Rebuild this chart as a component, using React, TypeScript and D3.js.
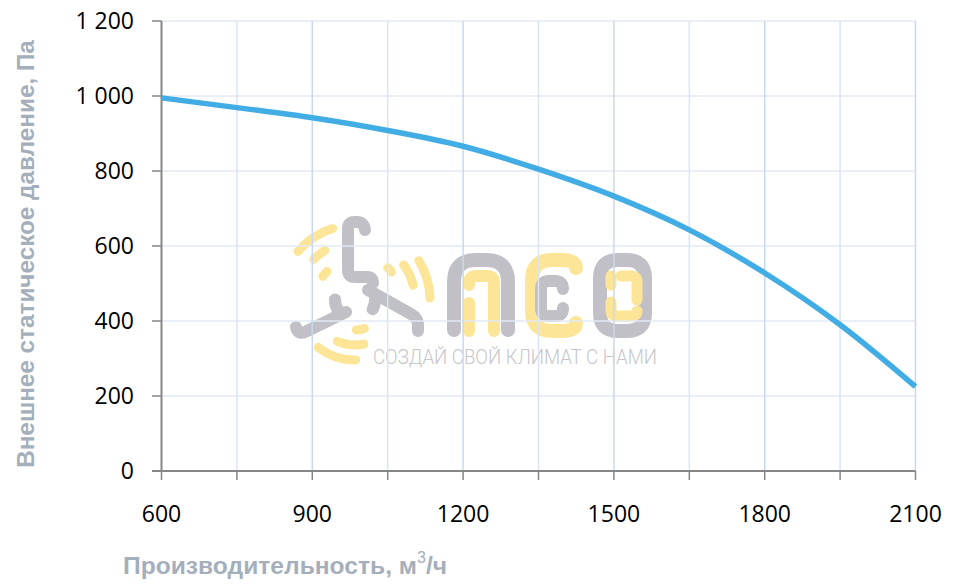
import React from "react";
import * as d3 from "d3";

const flow = [600, 750, 900, 1050, 1200, 1350, 1500, 1650, 1800, 1950, 2100];
const pressure = [995, 969, 942, 908, 866, 805, 733, 643, 528, 390, 225];

const xMajorTicks = [600, 900, 1200, 1500, 1800, 2100];
const xMinorTicks = [750, 1050, 1350, 1650, 1950];
const yTicks = [0, 200, 400, 600, 800, 1000, 1200];
const yTickLabels = ["0", "200", "400", "600", "800", "1 000", "1 200"];

const W = 954;
const H = 588;
const left = 161.5;
const right = 915.5;
const top = 21;
const bottom = 471;

const tickFont = "'Open Sans', 'Noto Sans', sans-serif";
const titleFont = "'Liberation Sans', Arial, sans-serif";

const x = d3.scaleLinear().domain([600, 2100]).range([left, right]);
const y = d3.scaleLinear().domain([0, 1200]).range([bottom, top]);

const line = d3
  .line<number>()
  .x((_, i) => x(flow[i]))
  .y((d) => y(d))
  .curve(d3.curveMonotoneX);

// watermark arcs [radius, startDeg, endDeg]
const yellowArcs: [number, number, number][] = [
  [75, -53, -14],
  [58, -50, -27],
  [40, -60, -38],
  [75, 55, 92],
  [60, 50, 80],
  [46, 40, 58],
  [60, 175, 222],
  [45, 163, 209],
  [30, 153, 186],
];
const hubArcs: [number, number, number][] = [
  [20, 218, 289],
  [20, 70, 135],
];

const rad = (d: number) => (d * Math.PI) / 180;

function Logo() {
  const gray = "#c0c0c6";
  const yellow = "#fde597";
  const arcY = d3.arc<any>().cornerRadius(4.5);
  const arcG = d3.arc<any>().cornerRadius(6);
  const cx = 355;
  const cy = 300;
  return (
    <g>
      <g transform={`translate(${cx},${cy})`}>
        {yellowArcs.map(([r, a0, a1], i) => (
          <path
            key={"y" + i}
            fill={yellow}
            d={arcY({ innerRadius: r - 4.5, outerRadius: r + 4.5, startAngle: rad(a0), endAngle: rad(a1) }) || ""}
          />
        ))}
        {hubArcs.map(([r, a0, a1], i) => (
          <path
            key={"h" + i}
            fill={gray}
            d={arcG({ innerRadius: r - 6, outerRadius: r + 6, startAngle: rad(a0), endAngle: rad(a1) }) || ""}
          />
        ))}
      </g>
      <g fill="none" stroke={gray} strokeWidth={12} strokeLinecap="round" strokeLinejoin="round">
        <path d="M365,230 Q364,222 357,222 H354 Q348,222 348,229 V270 Q348,277 355,277 H367 Q373,277 373,283" />
        <path d="M346,312 L307,331 Q298,336 296,327" />
        <path d="M368,290 L411,314 Q418,318 418,325 V331" />
      </g>
      <g fill="none" strokeLinecap="round" strokeLinejoin="round">
        <path stroke={gray} strokeWidth={14} d="M454,330 V282 Q454,260 476,260 H486 Q508,260 508,282 V330" />
        <path stroke={yellow} strokeWidth={12} d="M469,285 V283 Q469,276 476,276 H487 Q494,276 494,283 V331" />
        <path stroke={yellow} strokeWidth={12} d="M469,303 V331" />
        <path stroke={yellow} strokeWidth={14} d="M576,268 Q576,260 562,260 H552 Q532,260 532,280 V311 Q532,331 552,331 H562 Q576,331 576,323" />
        <path stroke={gray} strokeWidth={12} d="M563,289 Q563,281 555,281 H549 Q541,281 541,289 V308 Q541,316 549,316 H555 Q563,316 563,308" />
        <path stroke={gray} strokeWidth={14} d="M618,260 H627 Q645,260 645,278 V313 Q645,331 627,331 H618 Q600,331 600,313 V278 Q600,260 618,260 Z" />
        <path stroke={yellow} strokeWidth={11} d="M611,276 V285" />
        <path stroke={yellow} strokeWidth={11} d="M621,276 H631 Q637,276 637,282 V300" />
        <path stroke={yellow} strokeWidth={11} d="M611,302 V310 Q611,316 617,316 H631 Q637,316 637,311" />
      </g>
      <text
        x={373}
        y={364}
        fontFamily="Roboto, 'Noto Sans', sans-serif"
        fontWeight={300}
        fontSize={21}
        fill="#c6c6ca"
        textLength={284}
        lengthAdjust="spacingAndGlyphs"
      >
        СОЗДАЙ СВОЙ КЛИМАТ С НАМИ
      </text>
    </g>
  );
}

export default function App() {
  return (
    <svg
      width={W}
      height={H}
      viewBox={`0 0 ${W} ${H}`}
      style={{ position: "absolute", left: 0, top: 0, background: "#fff" }}
    >
      <rect width={W} height={H} fill="#fff" />
      <Logo />
      {/* horizontal gridlines */}
      {yTicks.slice(1).map((t) => (
        <line key={"hg" + t} x1={left} x2={right} y1={y(t)} y2={y(t)} stroke="#e2e9f5" strokeWidth={1.5} />
      ))}
      {/* vertical gridlines */}
      {xMinorTicks.map((t) => (
        <line key={"vm" + t} x1={x(t)} x2={x(t)} y1={top} y2={bottom} stroke="#dbe4f3" strokeWidth={1.5} />
      ))}
      {xMajorTicks.slice(1).map((t) => (
        <line key={"vM" + t} x1={x(t)} x2={x(t)} y1={top} y2={bottom} stroke="#c9d8ef" strokeWidth={1.5} />
      ))}
      {/* axes */}
      <line x1={left} x2={left} y1={top} y2={bottom} stroke="#868686" strokeWidth={2} />
      <line x1={152} x2={right} y1={bottom} y2={bottom} stroke="#868686" strokeWidth={2} />
      {yTicks.map((t) => (
        <line key={"yt" + t} x1={152} x2={left} y1={y(t)} y2={y(t)} stroke="#868686" strokeWidth={1.5} />
      ))}
      {[...xMajorTicks, ...xMinorTicks].map((t) => (
        <line key={"xt" + t} x1={x(t)} x2={x(t)} y1={bottom} y2={480} stroke="#868686" strokeWidth={1.5} />
      ))}
      {/* tick labels */}
      {yTicks.map((t, i) => (
        <text
          key={"yl" + t}
          x={134}
          y={y(t)}
          dy="0.36em"
          textAnchor="end"
          fontFamily={tickFont}
          fontSize={23}
          fill="#000"
        >
          {yTickLabels[i]}
        </text>
      ))}
      {xMajorTicks.map((t) => (
        <text
          key={"xl" + t}
          x={x(t)}
          y={522}
          textAnchor="middle"
          fontFamily={tickFont}
          fontSize={23}
          fill="#000"
        >
          {t}
        </text>
      ))}
      {/* curve */}
      <path d={line(pressure) || ""} fill="none" stroke="#42ade4" strokeWidth={5.5} strokeLinecap="butt" />
      {/* axis titles */}
      <text
        transform="translate(34,254) rotate(-90)"
        textAnchor="middle"
        fontFamily={titleFont}
        fontWeight="bold"
        fontSize={24.3}
        fill="#a5afbb"
      >
        Внешнее статическое давление, Па
      </text>
      <text x={123} y={574} fontFamily={titleFont} fontWeight="bold" fontSize={24.6} fill="#a5afbb">
        Производительность, м
        <tspan fontWeight="normal" fontSize={16} dy={-11}>
          3
        </tspan>
        <tspan dy={11}>/ч</tspan>
      </text>
    </svg>
  );
}
